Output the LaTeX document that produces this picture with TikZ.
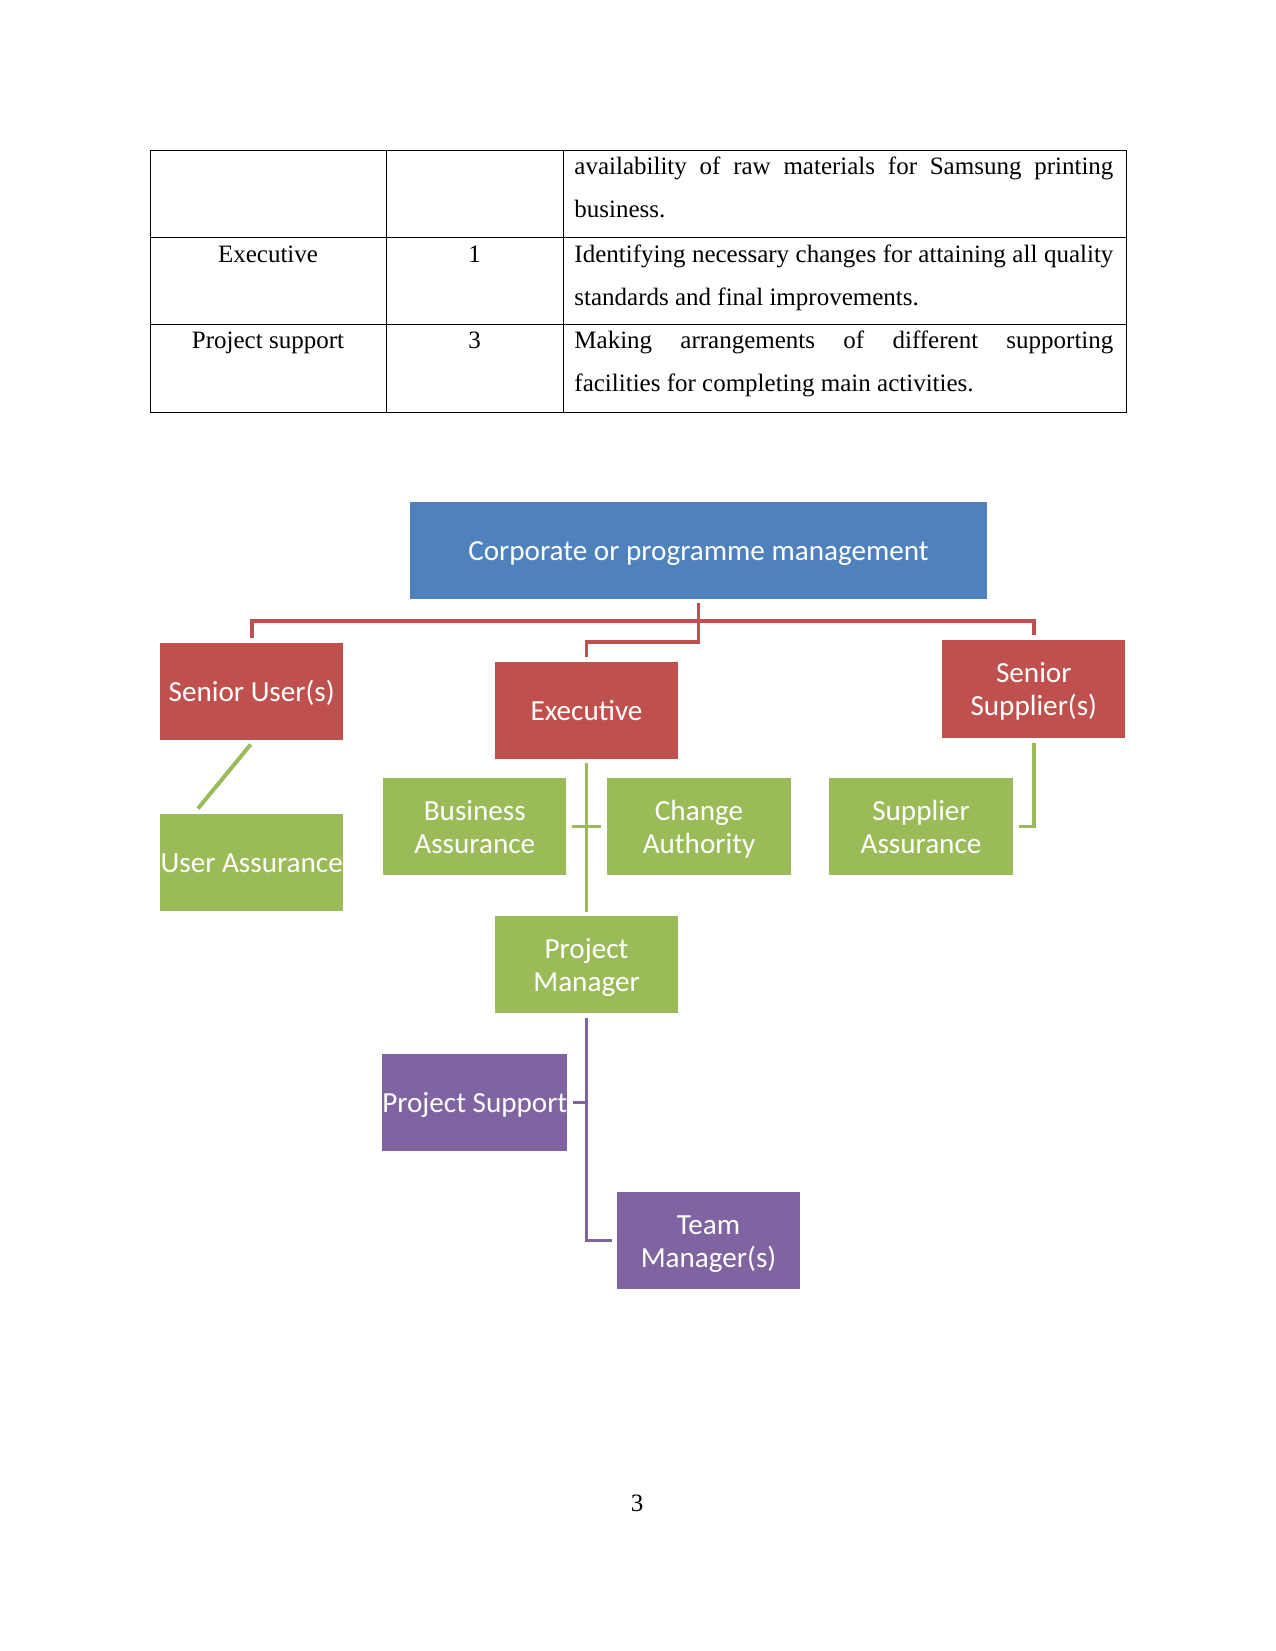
\documentclass[tikz,border=0pt]{standalone}
\usepackage{fontspec}
\setmainfont{Liberation Serif}
\newfontfamily\diagfont{Carlito}
\usetikzlibrary{calc}
\definecolor{cblue}{HTML}{4F81BD}
\definecolor{cred}{HTML}{C0504D}
\definecolor{cgreen}{HTML}{9BBB59}
\definecolor{cpurple}{HTML}{8064A2}
\newcommand\onestrut{\rule[-2.5pt]{0pt}{15pt}}
\newcommand\topstrut{\rule{0pt}{13pt}}
\newcommand\botstrut{\rule[-3pt]{0pt}{3pt}}
\newcommand\oneln[1]{\onestrut#1}
\newcommand\twoln[2]{\topstrut#1\\#2\botstrut}
\tikzset{
  tabtext/.style={inner sep=0pt, font=\fontsize{12}{14}\selectfont},
  tabline/.style={line width=0.45pt},
  box/.style={draw=none, minimum width=87.9pt, minimum height=46.6pt, inner sep=0pt,
    text=white, align=center, font=\diagfont\fontsize{14}{15.8}\selectfont},
  bluebox/.style={box, fill=cblue},
  redbox/.style={box, fill=cred},
  greenbox/.style={box, fill=cgreen},
  purplebox/.style={box, fill=cpurple},
  redline/.style={draw=cred, line width=1.9pt},
  greenline/.style={draw=cgreen, line width=1.9pt},
  purpleline/.style={draw=cpurple, line width=1.9pt},
}
\begin{document}
\begin{tikzpicture}[x=0.48pt,y=-0.48pt]
\useasboundingbox (0,0) rectangle (1275,1651);
% table
\draw[tabline] (150,150) rectangle (1126,412);
\draw[tabline] (386,150) -- (386,412);
\draw[tabline] (563,150) -- (563,412);
\draw[tabline] (150,237) -- (1126,237);
\draw[tabline] (150,324) -- (1126,324);
\node[tabtext, anchor=base west] (t1a) at (574,175) {\makebox[258.7pt][s]{availability of raw materials for Samsung printing}};
\node[tabtext, anchor=base west] (t1b) at (574,218) {business.};
\node[tabtext, anchor=base] (t2r) at (268,262) {Executive};
\node[tabtext, anchor=base] (t2n) at (474.5,262) {1};
\node[tabtext, anchor=base west] (t2a) at (574,262) {\makebox[258.7pt][s]{Identifying necessary changes for attaining all quality}};
\node[tabtext, anchor=base west] (t2b) at (574,305) {standards and final improvements.};
\node[tabtext, anchor=base] (t3r) at (268,348) {Project support};
\node[tabtext, anchor=base] (t3n) at (474.5,348) {3};
\node[tabtext, anchor=base west] (t3a) at (574,348) {\makebox[258.7pt][s]{Making arrangements of different supporting}};
\node[tabtext, anchor=base west] (t3b) at (574,391) {facilities for completing main activities.};
% diagram boxes
\node[bluebox, minimum width=276.5pt] (corp) at (698.5,550.5) {\oneln{Corporate or programme management}};
\node[redbox] (su) at (251.7,691.5) {\oneln{Senior User(s)}};
\node[redbox] (ex) at (586.5,710.5) {\oneln{Executive}};
\node[redbox] (ss) at (1033.8,689) {\twoln{Senior}{Supplier(s)}};
\node[greenbox] (ua) at (251.7,862.5) {\oneln{User Assurance}};
\node[greenbox] (ba) at (474.8,826.5) {\twoln{Business}{Assurance}};
\node[greenbox] (ca) at (699,826.5) {\twoln{Change}{Authority}};
\node[greenbox] (sa) at (921,826.5) {\twoln{Supplier}{Assurance}};
\node[greenbox] (pm) at (586.5,964.5) {\twoln{Project}{Manager}};
\node[purplebox] (ps) at (474.8,1102.5) {\oneln{Project Support}};
\node[purplebox] (tm) at (708.5,1240.5) {\twoln{Team}{Manager(s)}};
% connectors
\draw[redline] ($(corp.south)+(0,4)$) |- ($(ex.north)+(0,-20)$) -- ($(ex.north)+(0,-5)$);
\draw[redline] ($(su.north)+(0,-5)$) |- ($(corp.south)+(0,22)$) -| ($(ss.north)+(0,-5)$);
\draw[greenline] ($(su.south)+(-1,4)$) -- ($(ua.north)+(-53.7,-5)$);
\draw[greenline] ($(ex.south)+(0,4)$) -- ($(pm.north)+(0,-4)$);
\draw[greenline] ($(ba.east)+(5,0)$) -- ($(ca.west)+(-6.5,0)$);
\draw[greenline] ($(ss.south)+(0,5)$) |- ($(sa.east)+(6,0)$);
\draw[purpleline] ($(pm.south)+(0,5)$) |- ($(tm.west)+(-4.3,0)$);
\draw[purpleline] ($(ps.east)+(5,0)$) -- (ps.east -| pm.south);
% page number
\node[tabtext] (pg) at (637,1503) {3};
\end{tikzpicture}
\end{document}
